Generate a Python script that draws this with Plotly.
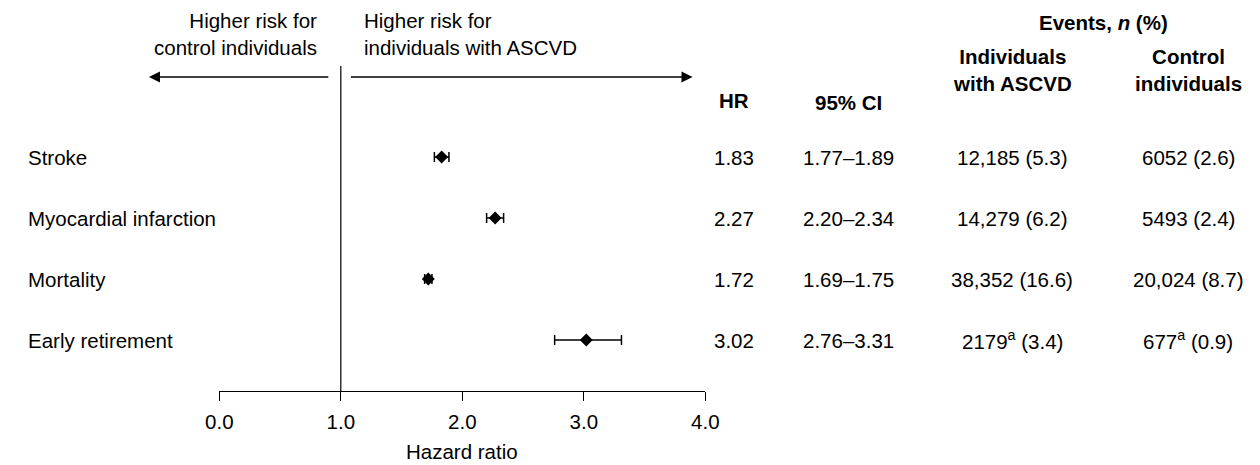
import plotly.graph_objects as go

# ---- data ----
outcomes = ["Stroke", "Myocardial infarction", "Mortality", "Early retirement"]
hr = [1.83, 2.27, 1.72, 3.02]
ci_low = [1.77, 2.20, 1.69, 2.76]
ci_high = [1.89, 2.34, 1.75, 3.31]
events_ascvd = ["12,185 (5.3)", "14,279 (6.2)", "38,352 (16.6)", "2179<sup>a</sup> (3.4)"]
events_control = ["6052 (2.6)", "5493 (2.4)", "20,024 (8.7)", "677<sup>a</sup> (0.9)"]
x_ticks = [0, 1, 2, 3, 4]
ref_value = 1.0

W, H = 1260, 465
FONT = "Liberation Sans, Arial, Helvetica, sans-serif"
FS = 20.5

def px(x):
    return x / W

def py(y):
    return 1 - y / H

row_idx = list(range(len(outcomes)))
ci_plus = [h - v for v, h in zip(hr, ci_high)]
ci_minus = [v - l for v, l in zip(hr, ci_low)]

fig = go.Figure()
fig.add_trace(go.Scatter(
    x=hr, y=row_idx, mode="markers",
    marker=dict(symbol="diamond", size=10, color="black"),
    error_x=dict(type="data", symmetric=False, array=ci_plus, arrayminus=ci_minus,
                 color="black", thickness=1.5, width=5),
    showlegend=False, hoverinfo="skip",
))

# plot area: x 0..4 maps pixels 210..707; y rows at 157 + 61*i, bottom axis at 391
X0, X4 = 210, 707
axis_bottom = 391
row0, step = 157, 61
fig.update_layout(
    width=W, height=H,
    margin=dict(l=0, r=0, t=0, b=0),
    paper_bgcolor="white", plot_bgcolor="white",
    font=dict(family=FONT, size=FS, color="black"),
    xaxis=dict(domain=[px(X0), px(X4)], range=[0, 4], tickvals=x_ticks,
               tickformat=".1f", showgrid=False, zeroline=False,
               showline=True, linecolor="black", linewidth=1,
               ticks="outside", ticklen=9, tickcolor="black", tickwidth=1,
               tickfont=dict(size=FS), ticklabelstandoff=3),
    yaxis=dict(domain=[1 - axis_bottom / H, 1],
               range=[(axis_bottom - row0) / step, -row0 / step],
               showgrid=False, zeroline=False, showticklabels=False, showline=False),
)

# axis title
fig.add_annotation(x=2, y=0, xref="x", yref="paper", text="Hazard ratio",
                   showarrow=False, xanchor="center", yanchor="bottom")

# reference line at HR = 1
fig.add_shape(type="line", xref="x", yref="paper", x0=ref_value, x1=ref_value,
              y0=py(66), y1=py(axis_bottom), line=dict(color="black", width=1.2))

# direction arrows
def xd(p):
    return (p - X0) / ((X4 - X0) / 4)

ARROW_Y = 77
fig.add_annotation(x=xd(138), y=py(ARROW_Y), ax=xd(323), ay=0, xref="x", yref="paper",
                   axref="x", ayref="pixel", text="", showarrow=True,
                   arrowhead=2, arrowsize=1.7, arrowwidth=1.3, arrowcolor="black")
fig.add_annotation(x=xd(694), y=py(ARROW_Y), ax=xd(343), ay=0, xref="x", yref="paper",
                   axref="x", ayref="pixel", text="", showarrow=True,
                   arrowhead=2, arrowsize=1.7, arrowwidth=1.3, arrowcolor="black")
fig.add_annotation(x=px(312), y=py(34), xref="paper", yref="paper",
                   text="Higher risk for<br>control individuals", showarrow=False,
                   xanchor="right", yanchor="middle", align="right")
fig.add_annotation(x=px(356), y=py(34), xref="paper", yref="paper",
                   text="Higher risk for<br>individuals with ASCVD", showarrow=False,
                   xanchor="left", yanchor="middle", align="left")

# column headers
fig.add_annotation(x=px(736), y=py(101), xref="paper", yref="paper", text="<b>HR</b>",
                   showarrow=False, xanchor="center", yanchor="middle")
fig.add_annotation(x=px(853), y=py(102), xref="paper", yref="paper", text="<b>95% CI</b>",
                   showarrow=False, xanchor="center", yanchor="middle")
fig.add_annotation(x=px(1114), y=py(22), xref="paper", yref="paper",
                   text="<b>Events, <i>n</i> (%)</b>",
                   showarrow=False, xanchor="center", yanchor="middle")
fig.add_annotation(x=px(1021), y=py(70), xref="paper", yref="paper",
                   text="<b>Individuals<br>with ASCVD</b>",
                   showarrow=False, xanchor="center", yanchor="middle", align="center")
fig.add_annotation(x=px(1201), y=py(70), xref="paper", yref="paper",
                   text="<b>Control<br>individuals</b>",
                   showarrow=False, xanchor="center", yanchor="middle", align="center")

# row labels and values
for i, name in enumerate(outcomes):
    fig.add_annotation(x=px(12), y=i, xref="paper", yref="y", text=name,
                       showarrow=False, xanchor="left", yanchor="middle")
    fig.add_annotation(x=px(736), y=i, xref="paper", yref="y", text=f"{hr[i]:.2f}",
                       showarrow=False, xanchor="center", yanchor="middle")
    fig.add_annotation(x=px(853), y=i, xref="paper", yref="y",
                       text=f"{ci_low[i]:.2f}\u2013{ci_high[i]:.2f}",
                       showarrow=False, xanchor="center", yanchor="middle")
    fig.add_annotation(x=px(1021), y=i, xref="paper", yref="y", text=events_ascvd[i],
                       showarrow=False, xanchor="center", yanchor="middle")
    fig.add_annotation(x=px(1201), y=i, xref="paper", yref="y", text=events_control[i],
                       showarrow=False, xanchor="center", yanchor="middle")

fig.write_html("out.html", config={"displayModeBar": False},
               post_script="document.body.style.margin='0';document.body.style.overflow='hidden';")
